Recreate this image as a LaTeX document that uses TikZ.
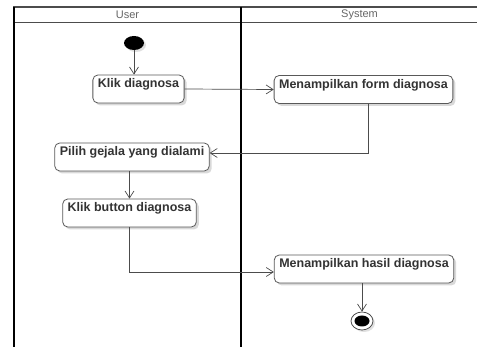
\documentclass[tikz,border=0pt]{standalone}
\usepackage{fontspec}
\setmainfont{Liberation Sans}
\usetikzlibrary{arrows.meta,shadows,shapes.geometric,calc}
\begin{document}
\begin{tikzpicture}[x=1pt,y=-1pt,
 act/.style={draw=black!65, line width=0.8pt, rounded corners=5pt, fill=white,
   font=\fontsize{12.5}{14}\selectfont\bfseries, text=black!80,
   inner xsep=5pt, inner ysep=0pt, text height=12.7pt, text depth=15.3pt,
   drop shadow={shadow xshift=2.5pt, shadow yshift=-2.5pt, opacity=0.15, fill=black}},
 flow/.style={draw=black!70, line width=0.7pt, -{Straight Barb[length=7pt,width=9pt]}},
 lane/.style={draw=black, line width=1.8pt},
 hdr/.style={font=\fontsize{11}{13}\selectfont, text=black!60}]
\useasboundingbox (0,0) rectangle (477,347);
\fill[white] (0,0) rectangle (477,347);
% frame and lanes
\draw[black!70, line width=1.2pt] (13,7) -- (477,7);
\draw[black!70, line width=0.8pt] (14,22) -- (477,22);
\draw[lane] (14,7) -- (14,347);
\draw[lane] (241,7) -- (241,347);
\node[hdr] (huser) at (127.5,14.5) {User};
\node[hdr] (hsys) at (359.5,14.5) {System};
% start / end
\node[ellipse, fill=black, minimum width=20pt, minimum height=14pt, inner sep=0pt,
  drop shadow={shadow xshift=2pt, shadow yshift=-2pt, opacity=0.12, fill=black}] (start) at (134,43) {};
\node[ellipse, draw=black!70, line width=0.8pt, fill=white, minimum width=22pt, minimum height=18pt, inner sep=0pt,
  drop shadow={shadow xshift=2pt, shadow yshift=-2pt, opacity=0.12, fill=black}] (end) at (362,321) {};
\node[ellipse, fill=black, minimum width=15pt, minimum height=11pt, inner sep=0pt] (endin) at (end.center) {};
% actions
\node[act] (klik) at (138.5,89) {Klik diagnosa};
\node[act] (form) at (363.5,89.5) {Menampilkan form diagnosa};
\node[act] (pilih) at (132,157) {Pilih gejala yang dialami};
\node[act] (kb) at (129.5,213) {Klik button diagnosa};
\node[act] (hasil) at (364,269) {Menampilkan hasil diagnosa};
% flows
\draw[flow] (start.south) -- (start.south |- klik.north);
\draw[flow] (klik.east) -- (form.west);
\draw[flow] ([xshift=4.5pt]form.south) |- ([yshift=4pt]pilih.east);
\draw[flow] (kb.north |- pilih.south) -- (kb.north);
\draw[flow] (kb.south) |- ([yshift=-3pt]hasil.west);
\draw[flow] (end.north |- hasil.south) -- (end.north);
\end{tikzpicture}
\end{document}
